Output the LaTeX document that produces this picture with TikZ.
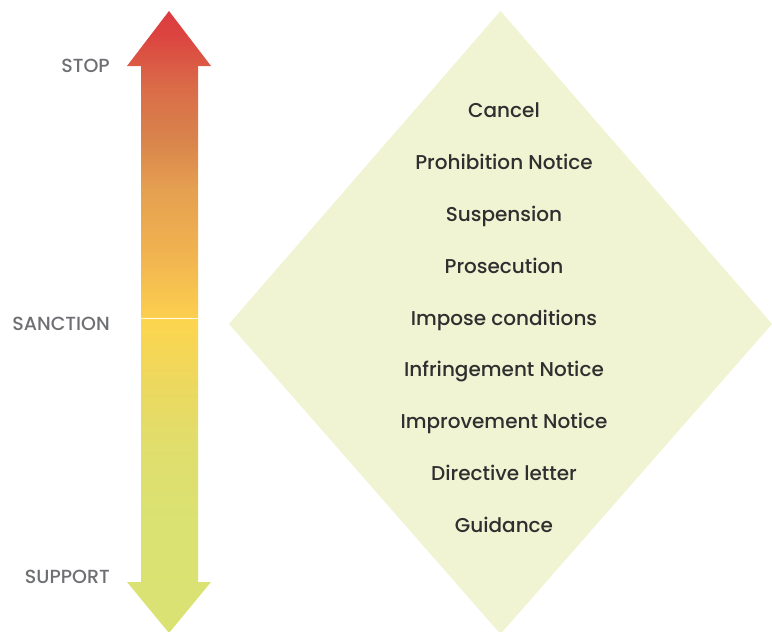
\documentclass[tikz,border=0pt]{standalone}
\usepackage{fontspec}
\setmainfont{Poppins Medium}
\usetikzlibrary{positioning}

\definecolor{stepText}{HTML}{2F2F2F}
\definecolor{scaleText}{HTML}{6E6F72}
\definecolor{diamondFill}{HTML}{F0F4D3}

% Upper half of the scale: yellow at the base, red at the tip
\pgfdeclareverticalshading{scaleupper}{100bp}{%
  color(0bp)=(rgb,255:red,252;green,207;blue,79);
  color(25bp)=(rgb,255:red,252;green,207;blue,79);
  color(36bp)=(rgb,255:red,240;green,178;blue,80);
  color(46bp)=(rgb,255:red,229;green,160;blue,80);
  color(54bp)=(rgb,255:red,217;green,132;blue,76);
  color(63bp)=(rgb,255:red,218;green,106;blue,72);
  color(71bp)=(rgb,255:red,220;green,68;blue,64);
  color(75bp)=(rgb,255:red,220;green,60;blue,63);
  color(100bp)=(rgb,255:red,220;green,60;blue,63)}

% Lower half of the scale: green at the tip, yellow at the top
\pgfdeclareverticalshading{scalelower}{100bp}{%
  color(0bp)=(rgb,255:red,217;green,226;blue,115);
  color(25bp)=(rgb,255:red,217;green,226;blue,115);
  color(42bp)=(rgb,255:red,218;green,226;blue,114);
  color(55bp)=(rgb,255:red,224;green,222;blue,108);
  color(65bp)=(rgb,255:red,237;green,216;blue,94);
  color(75bp)=(rgb,255:red,253;green,213;blue,78);
  color(100bp)=(rgb,255:red,253;green,213;blue,78)}

\tikzset{
  steplabel/.style={text=stepText, font=\fontsize{20}{22}\selectfont, anchor=center,
    inner sep=0pt, text height=14pt, text depth=0pt},
  scalelabel/.style={text=scaleText, font=\fontsize{19}{21}\selectfont, anchor=east,
    inner sep=0pt, text height=13pt, text depth=0pt},
}

\begin{document}
\begin{tikzpicture}[x=1pt, y=-1pt]
  \useasboundingbox (0,0) rectangle (772,632);

  % escalation diamond
  \fill[diamondFill] (500.5,11) -- (772,324) -- (500.5,634) -- (229,324) -- cycle;

  % two-headed scale arrow, split at the middle
  \shade[shading=scaleupper]
    (169,11) -- (211,66) -- (198,66) -- (198,318) -- (141,318) -- (141,66) -- (127,66) -- cycle;
  \shade[shading=scalelower]
    (141,319) -- (198,319) -- (198,582) -- (211,582) -- (169,633) -- (127,582) -- (141,582) -- cycle;

  % scale labels
  \node[scalelabel] (stop) at (110,66) {STOP};
  \node[scalelabel] (sanction) at (110,324) {SANCTION};
  \node[scalelabel] (support) at (110,577) {SUPPORT};

  % enforcement options, most severe at the top
  \node[steplabel] (s1) at (504,110) {Cancel};
  \node[steplabel] (s2) at (504,162) {Prohibition Notice};
  \node[steplabel] (s3) at (504,214) {Suspension};
  \node[steplabel] (s4) at (504,266) {Prosecution};
  \node[steplabel] (s5) at (504,318) {Impose conditions};
  \node[steplabel] (s6) at (504,369) {Infringement Notice};
  \node[steplabel] (s7) at (504,421) {Improvement Notice};
  \node[steplabel] (s8) at (504,473) {Directive letter};
  \node[steplabel] (s9) at (504,525) {Guidance};
\end{tikzpicture}
\end{document}
